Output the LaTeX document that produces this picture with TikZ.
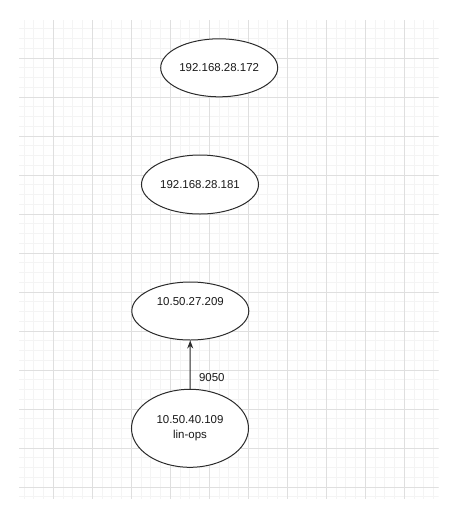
\documentclass[tikz,border=0pt]{standalone}
\usepackage{fontspec}
\setmainfont{Liberation Sans}
\usetikzlibrary{arrows.meta,shapes.geometric}
\definecolor{gridminor}{HTML}{F4F4F4}
\definecolor{gridmajor}{HTML}{DFDFDF}
\definecolor{inkgray}{HTML}{2B2B2B}
\begin{document}
\begin{tikzpicture}[x=0.75pt,y=-0.75pt,
    host/.style={ellipse,draw=inkgray,line width=0.75pt,fill=white,inner sep=0pt,
        minimum width=87.75pt,minimum height=43.5pt,align=center,
        font=\fontsize{8.6}{11.25}\selectfont,text=black!90},
    link/.style={draw=inkgray,line width=0.75pt,-{Stealth[length=6pt,width=4.5pt]}}]
            \useasboundingbox (0,0) rectangle (461,522);
            \begin{scope}
            \clip (19,20) rectangle (438.7,499.3);
            \foreach \k in {-4,...,40} {
                \draw[gridminor,line width=0.75pt] ({53.3+9.75*\k},20) -- ({53.3+9.75*\k},499.3);
            }
            \foreach \k in {-4,...,46} {
                \draw[gridminor,line width=0.75pt] (19,{58+9.75*\k}) -- (438.7,{58+9.75*\k});
            }
            \foreach \k in {-1,...,10} {
                \draw[gridmajor,line width=0.75pt] ({53.3+39*\k},20) -- ({53.3+39*\k},499.3);
            }
            \foreach \k in {-1,...,12} {
                \draw[gridmajor,line width=0.75pt] (19,{58+39*\k}) -- (438.7,{58+39*\k});
            }
            \end{scope}
            \node[host] (h172) at (219.2,67.8) {192.168.28.172};
            \node[host,minimum height=44.25pt] (h181) at (200,184.5) {192.168.28.181};
            \node[host] (h209) at (190.3,311) {10.50.27.209\\\strut};
            \node[host,minimum height=58.5pt] (h109) at (190,428.3) {10.50.40.109\\lin-ops};
            \draw[link] (h109) -- (h209) node[pos=0.23,anchor=west,xshift=3pt,font=\fontsize{8.6}{11.25}\selectfont,text=black!90]{9050};
\end{tikzpicture}
\end{document}
